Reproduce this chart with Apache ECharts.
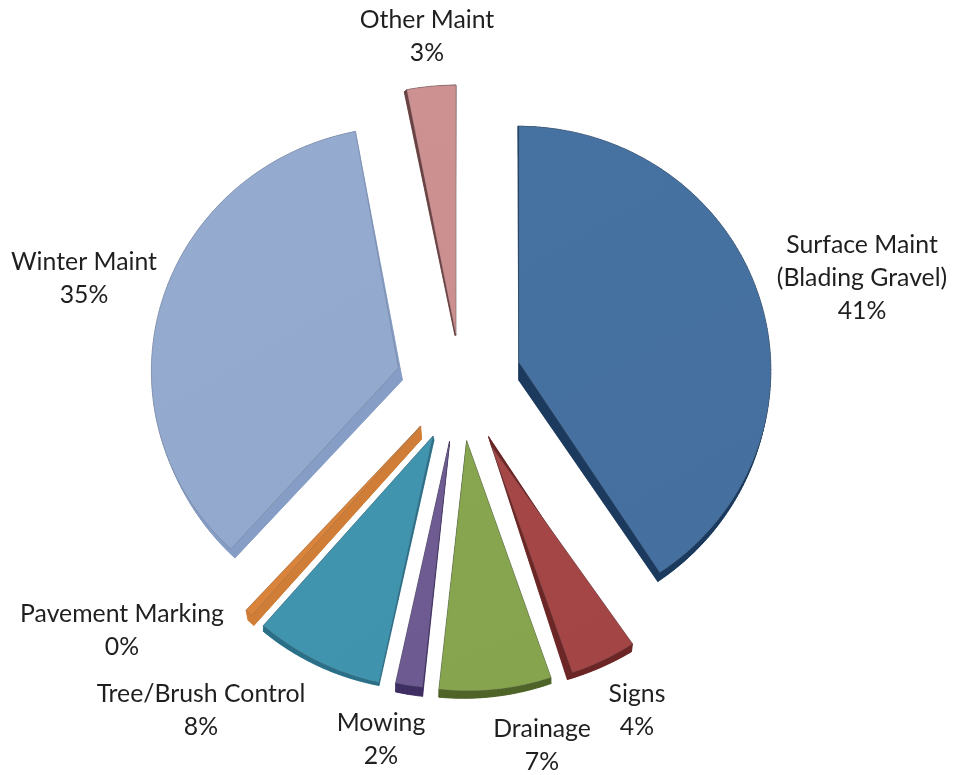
<!DOCTYPE html>
<html>
<head>
<meta charset="utf-8">
<style>html,body{margin:0;padding:0;background:#fff}#c{width:956px;height:775px}</style>
<script src="https://cdn.jsdelivr.net/npm/echarts@6/dist/echarts.min.js"></script>
</head>
<body>
<div id="c"></div>
<script>
// Data
const categories = ['Surface Maint\n(Blading Gravel)', 'Signs', 'Drainage', 'Mowing', 'Tree/Brush Control', 'Pavement Marking', 'Winter Maint', 'Other Maint'];
const shares = [40.55, 4.25, 7.0, 1.7, 8.0, 0.49, 34.95, 3.05];

// Styles and layout
const topColors = ['#446f9f', '#a24544', '#86a44e', '#6c5a90', '#4093ad', '#d9843a', '#92a9cd', '#cb8f90'];
const topLight  = ['#4672a2', '#a54746', '#88a650', '#6e5c92', '#4295af', '#d9843a', '#95abcf', '#ce9192'];
const wallColors = ['#1b3a5e', '#6c2625', '#4f6428', '#3f2f63', '#2a7089', '#d07e37', '#869dc5', '#6b4242'];
const explode = [60.5, 53, 53, 54, 54, 54, 61, 53];
const radiusScale = [1, 1, 1.025, 1.015, 1.035, 1.03, 1, 1.025];
const arcShiftX = [0, 7, 1.5, -0.5, -0.5, -1, 1, 0];
const arcShiftY = [0, 6, 0, 0, 0, -1, 0, 0];
const tipShiftX = [0, 0, -1.5, -2, -3, -3, -5, 0];
const tipShiftY = [-8, 5, 0, 0, 0, -1, -3, 0];
const rimStartX = [-1, -1, 0, 0, 0, 2, 4, -2.5];
const rimStartY = [0, 8, 6, 9, 3, 10, 9, 2];
const rimEndX = [-2, -5, 0, 0, 0, 2, 0, 0];
const rimEndY = [9, 7, 8, 9, 6, 10, 0, 0];
const tipDepthX = [0, -3, 0, 0, 1, 1, 4, -1];
const tipDepthY = [18, -10, 2, 2, 4, 13, 12, 0];
const labelX = [862, 637, 542, 381, 201, 122, 84, 427];
const labelY = [278, 711, 746, 740, 711, 631, 279, 37];
const CX = 461, CY = 388, RX = 252, RY = 244;
const FONT = 'Lato, "Open Sans", sans-serif';
const total = shares.reduce((a, b) => a + b, 0);

function renderSlice(params, api) {
  const i = params.dataIndex;
  const value = api.value(0);
  let before = 0;
  for (let k = 0; k < i; k++) before += shares[k];
  const a0 = before / total * Math.PI * 2;
  const a1 = (before + value) / total * Math.PI * 2;
  const mid = (a0 + a1) / 2;
  const cx = CX + explode[i] * Math.sin(mid) + arcShiftX[i];
  const cy = CY - explode[i] * Math.cos(mid) + arcShiftY[i];
  const rx = RX * radiusScale[i], ry = RY * radiusScale[i];
  const rim = [];
  const steps = Math.max(3, Math.ceil((a1 - a0) * 60));
  for (let s = 0; s <= steps; s++) {
    const a = a0 + (a1 - a0) * s / steps;
    rim.push([cx + rx * Math.sin(a), cy - ry * Math.cos(a)]);
  }
  const tip = [cx + tipShiftX[i], cy + tipShiftY[i]];
  const tipLow = [tip[0] + tipDepthX[i], tip[1] + tipDepthY[i]];
  const low = rim.map((p, s) => {
    const u = s / steps;
    return [
      p[0] + rimStartX[i] + (rimEndX[i] - rimStartX[i]) * u,
      p[1] + rimStartY[i] + (rimEndY[i] - rimStartY[i]) * u
    ];
  });
  const wallStyle = { fill: wallColors[i], stroke: wallColors[i], lineWidth: 0.5 };
  const children = [
    { type: 'polygon', shape: { points: [tipLow].concat(low) }, style: wallStyle },
    { type: 'polygon', shape: { points: [tip, tipLow, low[0], rim[0]] }, style: wallStyle },
    { type: 'polygon', shape: { points: [tip, tipLow, low[steps], rim[steps]] }, style: wallStyle }
  ];
  for (let s = 0; s < steps; s++) {
    children.push({
      type: 'polygon',
      shape: { points: [rim[s], rim[s + 1], low[s + 1], low[s]] },
      style: wallStyle
    });
  }
  children.push({
    type: 'polygon',
    shape: { points: [tip].concat(rim) },
    style: {
      fill: new echarts.graphic.LinearGradient(0, 0, 1, 1, [
        { offset: 0, color: topLight[i] },
        { offset: 1, color: topColors[i] }
      ]),
      stroke: 'rgba(90,90,100,0.25)',
      lineWidth: 1
    }
  });
  children.push({
    type: 'text',
    style: {
      x: labelX[i], y: labelY[i],
      text: categories[i] + '\n' + Math.round(value / total * 100) + '%',
      fill: '#1f1f1f',
      font: '24.8px ' + FONT,
      lineHeight: 33,
      align: 'center',
      verticalAlign: 'middle'
    }
  });
  return { type: 'group', children };
}

const chart = echarts.init(document.getElementById('c'), null, { renderer: 'canvas', width: 956, height: 775 });
chart.setOption({
  animation: false,
  backgroundColor: '#ffffff',
  series: [{
    type: 'custom',
    coordinateSystem: 'none',
    renderItem: renderSlice,
    data: shares.map((v, i) => ({ name: categories[i], value: [v] }))
  }]
});
</script>
</body>
</html>
